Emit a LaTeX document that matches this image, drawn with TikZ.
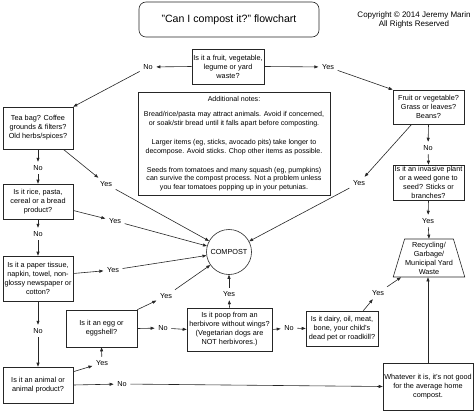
\documentclass[tikz,border=0pt]{standalone}
\usepackage{fontspec}
\setmainfont{Liberation Sans}
\usetikzlibrary{arrows.meta,shapes.geometric}
\begin{document}
\begin{tikzpicture}[x=1pt,y=-1pt,
  box/.style={draw=black!85, line width=0.6pt, align=center, inner sep=0pt, font=\fontsize{7.3}{9}\selectfont},
  lbl/.style={inner sep=3.5pt, font=\fontsize{7.3}{9}\selectfont},
  arr/.style={draw=black!85, line width=0.6pt, -{Triangle[length=4pt,width=3pt]}}]
\useasboundingbox (0,0) rectangle (474,412);
% title and copyright
\node[draw=black!85, line width=0.6pt, rounded corners=7pt, minimum width=180pt, minimum height=35pt, inner sep=0pt, font=\fontsize{10.6}{12}\selectfont] (title) at (229,19.5) {"Can I compost it?" flowchart};
\node[align=center, inner sep=0pt, font=\fontsize{8}{9}\selectfont] (copy) at (414,19.5) {Copyright © 2014 Jeremy Marin\\All Rights Reserved};
% boxes
\node[box, minimum width=72pt, minimum height=35pt] (b1) at (228,66.5) {Is it a fruit, vegetable,\\legume or yard\\waste?};
\node[box, minimum width=70pt, minimum height=42pt] (teabag) at (38,128) {Tea bag? Coffee\\grounds \& filters?\\Old herbs/spices?};
\node[box, minimum width=71pt, minimum height=34pt] (fruit) at (428.5,107) {Fruit or vegetable?\\Grass or leaves?\\Beans?};
\node[box, minimum width=192pt, minimum height=103pt, font=\fontsize{7.1}{8.8}\selectfont] (notes) at (234,143.5) {Additional notes:\\[7pt]
Bread/rice/pasta may attract animals. Avoid if concerned,\\
or soak/stir bread until it falls apart before composting.\\[10pt]
Larger items (eg, sticks, avocado pits) take longer to\\
decompose. Avoid sticks. Chop other items as possible.\\[10pt]
Seeds from tomatoes and many squash (eg, pumpkins)\\
can survive the compost process. Not a problem unless\\
you fear tomatoes popping up in your petunias.};
\node[box, minimum width=71pt, minimum height=35pt] (invasive) at (428.5,182.5) {Is it an invasive plant\\or a weed gone to\\seed? Sticks or\\branches?};
\node[box, trapezium, trapezium left angle=71, trapezium right angle=71, trapezium stretches=true, minimum width=72pt, minimum height=38pt] (rec) at (429,258) {Recycling/\\Garbage/\\Municipal Yard\\Waste};
\node[box, minimum width=70pt, minimum height=35pt] (rice) at (38,201.5) {Is it rice, pasta,\\cereal or a bread\\product?};
\node[box, minimum width=70pt, minimum height=45pt] (paper) at (38,278.5) {Is it a paper tissue,\\napkin, towel, non-\\glossy newspaper or\\cotton?};
\node[box, minimum width=70pt, minimum height=36pt] (animal) at (38,385) {Is it an animal or\\animal product?};
\node[box, minimum width=71pt, minimum height=37pt] (egg) at (101.5,328.5) {Is it an egg or\\eggshell?};
\node[box, minimum width=85pt, minimum height=43pt] (herb) at (229.5,329.5) {Is it poop from an\\herbivore without wings?\\(Vegetarian dogs are\\NOT herbivores.)};
\node[box, minimum width=72pt, minimum height=35pt] (dairy) at (342,328.5) {Is it dairy, oil, meat,\\bone, your child's\\dead pet or roadkill?};
\node[box, minimum width=90pt, minimum height=47pt] (whatever) at (428,386.5) {Whatever it is, it's not good\\for the average home\\compost.};
\node[box, circle, minimum size=45pt] (compost) at (229,252) {COMPOST};
% labels
\node[lbl] (no1) at (148,67) {No};
\node[lbl] (yes1) at (328,67) {Yes};
\node[lbl] (nofr) at (428,148) {No};
\node[lbl] (yesinv) at (428,221) {Yes};
\node[lbl] (yesF) at (359,183) {Yes};
\node[lbl] (yesT) at (106,184) {Yes};
\node[lbl] (noT) at (38,168) {No};
\node[lbl] (yesR) at (115,221) {Yes};
\node[lbl] (noR) at (38,234) {No};
\node[lbl] (yesP) at (113,270) {Yes};
\node[lbl] (noP) at (38,331) {No};
\node[lbl] (yesA) at (102,363) {Yes};
\node[lbl] (noA) at (122,384) {No};
\node[lbl] (noE) at (163,328) {No};
\node[lbl] (yesE) at (166,296) {Yes};
\node[lbl] (yesH) at (229,294) {Yes};
\node[lbl] (noH) at (289,328) {No};
\node[lbl] (yesD) at (378,293) {Yes};
% connectors
\draw[arr] (b1.west) -- (no1);
\draw[arr] (no1) -- (teabag.north east);
\draw[arr] (b1.east) -- (yes1);
\draw[arr] (yes1) -- (fruit.north west);
\draw[arr] (fruit.south) -- (nofr);
\draw[arr] (nofr) -- (invasive.north);
\draw[arr] (invasive.south) -- (yesinv);
\draw[arr] (yesinv) -- (rec.north);
\draw[arr] ([xshift=19pt]fruit.south west) -- (yesF);
\draw[arr] (yesF) -- (compost);
\draw[arr] ([xshift=-10pt]teabag.south east) -- (yesT);
\draw[arr] (yesT) -- (compost);
\draw[arr] (teabag.south) -- (noT);
\draw[arr] (noT) -- (rice.north);
\draw[arr] ([yshift=-9pt]rice.east) -- (yesR);
\draw[arr] (yesR) -- (compost);
\draw[arr] (rice.south) -- (noR);
\draw[arr] (noR) -- (paper.north);
\draw[arr] ([yshift=5pt]paper.east) -- (yesP);
\draw[arr] (yesP) -- (compost);
\draw[arr] (paper.south) -- (noP);
\draw[arr] (noP) -- (animal.north);
\draw[arr] ([yshift=-5pt]animal.north east) -- (yesA);
\draw[arr] (yesA) -- (egg.south);
\draw[arr] (animal.east) -- (noA);
\draw[arr] (noA) -- (whatever.west);
\draw[arr] (egg.east) -- (noE);
\draw[arr] (noE) -- (herb.west);
\draw[arr] (egg.north east) -- (yesE);
\draw[arr] (yesE) -- (compost);
\draw[arr] (herb.north) -- (yesH);
\draw[arr] (yesH) -- (compost.south);
\draw[arr] (herb.east) -- (noH);
\draw[arr] (noH) -- (dairy.west);
\draw[arr] ([xshift=-15pt]dairy.north east) -- (yesD);
\draw[arr] (yesD) -- ([xshift=-28pt]rec.south);
\draw[arr] (whatever.north) -- (whatever.north |- rec.south);
\end{tikzpicture}
\end{document}
